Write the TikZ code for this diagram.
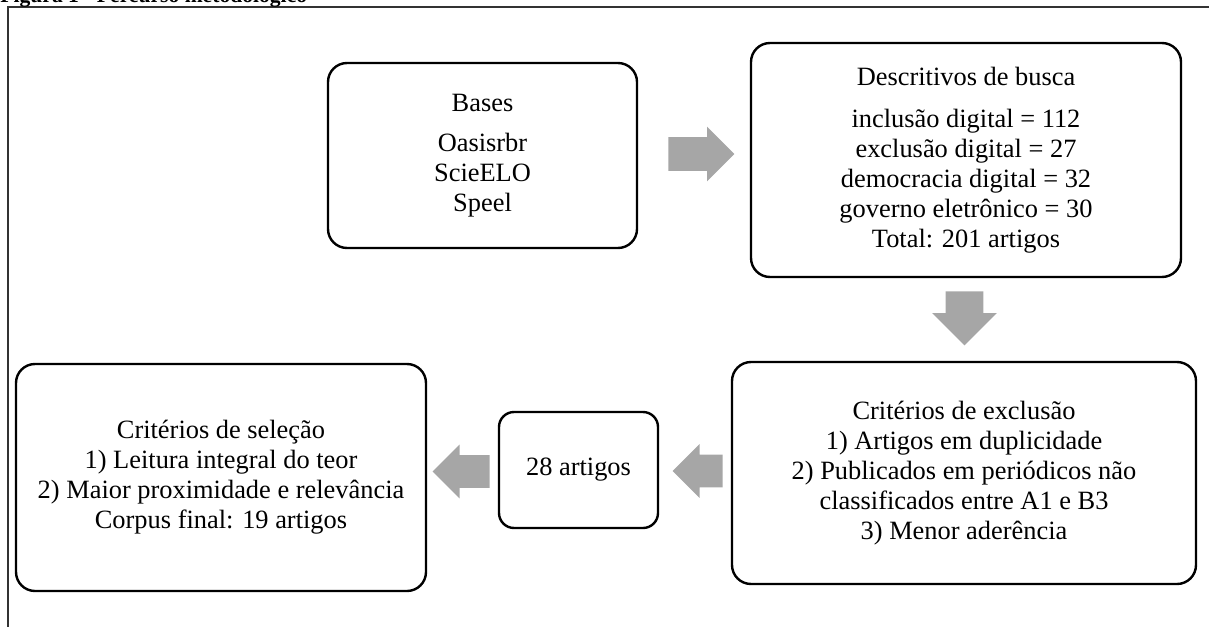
\documentclass[tikz,border=0pt]{standalone}
\usepackage{fontspec}
\setmainfont{Liberation Serif}
\usetikzlibrary{shapes.arrows}
\definecolor{setacinza}{RGB}{166,166,166}
\tikzset{
	etapa/.style={draw, line width=1.2pt, rounded corners=9.5pt, align=center,
			inner sep=0pt, font=\fontsize{13.2}{15}\selectfont},
	seta/.style={single arrow, fill=setacinza, draw=none, inner xsep=0pt,
			anchor=tail}
}

\begin{document}
\begin{tikzpicture}[x=0.5pt, y=-0.5pt]
		\useasboundingbox (0,0) rectangle (1209,626);
		% moldura e titulo
		\draw[line width=0.75pt, black!80] (8,640) -- (8,7) -- (1220,7);
		\node[anchor=base west, inner sep=0pt, font=\bfseries\fontsize{10.8}{13}\selectfont] (titulo) at (0,3) {Figura 1 - Percurso metodológico};

		% etapas
		\node[etapa, minimum width=154.5pt, minimum height=92.5pt] (bases) at (482.5,155.5)
			{Bases\\[5pt] Oasisrbr\\ ScieELO\\ Speel};
		\node[etapa, minimum width=215pt, minimum height=117pt] (busca) at (966,160)
			{Descritivos de busca\\[6pt] inclusão digital = 112\\ exclusão digital = 27\\
				democracia digital = 32\\ governo eletrônico = 30\\ Total: 201 artigos};
		\node[etapa, minimum width=232pt, minimum height=111pt] (exclusao) at (964,473)
			{Critérios de exclusão\\ 1) Artigos em duplicidade\\ 2) Publicados em periódicos não\\
				classificados entre A1 e B3\\ 3) Menor aderência};
		\node[etapa, rounded corners=7.5pt, minimum width=79.5pt, minimum height=58pt] (artigos) at (578.5,470)
			{\raisebox{-2.5pt}{28 artigos}};
		\node[etapa, minimum width=205pt, minimum height=113.5pt] (selecao) at (221,477.5)
			{Critérios de seleção\\ 1) Leitura integral do teor\\ 2) Maior proximidade e relevância\\
				Corpus final: 19 artigos};

		% setas
		\node[seta, minimum height=33pt, minimum width=27pt, inner ysep=8.25pt,
			single arrow head extend=5.25pt] (seta1) at (668,154) {};
		\node[seta, shape border rotate=270, minimum height=27pt, minimum width=32pt,
			inner xsep=9.25pt, inner ysep=0pt, single arrow head extend=6.75pt] (seta2) at (964.5,291) {};
		\node[seta, shape border rotate=180, minimum height=25pt, minimum width=26.5pt,
			inner ysep=8pt, single arrow head extend=5.25pt] (seta3) at (723,471) {};
		\node[seta, shape border rotate=180, minimum height=28.5pt, minimum width=26.5pt,
			inner ysep=8pt, single arrow head extend=5.25pt] (seta4) at (490,471.5) {};
	\end{tikzpicture}
\end{document}
